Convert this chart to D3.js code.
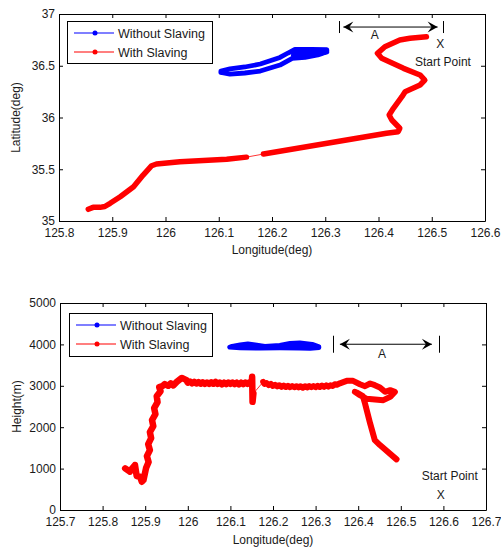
<!DOCTYPE html>
<meta charset="utf-8">
<script src="https://cdn.jsdelivr.net/npm/d3@7"></script>
<style>
  body { margin: 0; background: #fff; }
  text { font-family: Arial, "Liberation Sans", sans-serif; fill: #1a1a1a; }
</style>
<div id="chart"></div>
<script>

// legend / ticks
const seriesNames = ["Without Slaving", "With Slaving"];
const lonTicksTop = [125.8, 125.9, 126, 126.1, 126.2, 126.3, 126.4, 126.5, 126.6];
const latTicks = [35, 35.5, 36, 36.5, 37];
const lonTicksBottom = [125.7, 125.8, 125.9, 126, 126.1, 126.2, 126.3, 126.4, 126.5, 126.6, 126.7];
const heightTicks = [0, 1000, 2000, 3000, 4000, 5000];

// ---- top plot: latitude vs longitude ----
// without slaving (a narrow loop with a dense blob at its east end)
const blueLon = [126.104, 126.121, 126.149, 126.178, 126.215, 126.238, 126.262, 126.286, 126.303,
                 126.300, 126.270, 126.240, 126.245, 126.275, 126.303,
                 126.303, 126.275, 126.243, 126.230, 126.215, 126.178, 126.149, 126.121, 126.104, 126.104];
const blueLat = [36.435, 36.420, 36.430, 36.449, 36.507, 36.572, 36.580, 36.604, 36.633,
                 36.628, 36.612, 36.600, 36.632, 36.640, 36.645,
                 36.655, 36.658, 36.657, 36.623, 36.580, 36.517, 36.488, 36.469, 36.449, 36.435];

// with slaving, from the start point until the sparse gap
const redEastLon = [126.490, 126.459, 126.440, 126.412, 126.398, 126.406, 126.447, 126.478, 126.487, 126.478,
                    126.450, 126.444, 126.428, 126.420, 126.425, 126.440, 126.437, 126.415, 126.184];
const redEastLat = [36.781, 36.765, 36.749, 36.684, 36.620, 36.572, 36.475, 36.411, 36.362, 36.314,
                    36.249, 36.201, 36.089, 36.024, 35.976, 35.896, 35.863, 35.847, 35.647];
// with slaving, after the gap
const redWestLon = [126.152, 126.115, 126.027, 125.983, 125.974, 125.958, 125.940, 125.915, 125.896,
                    125.886, 125.877, 125.864, 125.855];
const redWestLat = [35.617, 35.596, 35.573, 35.551, 35.534, 35.444, 35.331, 35.235, 35.171,
                    35.140, 35.132, 35.132, 35.113];

// ---- bottom plot: height vs longitude ----
const blueHLon = [126.098, 126.123, 126.170, 126.216, 126.263, 126.287, 126.308,
                  126.308, 126.292, 126.263, 126.240, 126.216, 126.181, 126.158, 126.141, 126.123, 126.104, 126.098];
const blueH = [3932, 3912, 3908, 3912, 3908, 3901, 3920,
               3944, 4004, 4040, 4028, 3980, 3956, 3992, 4016, 3992, 3956, 3932];

const redEastHLon = [126.490, 126.451, 126.439, 126.428, 126.416, 126.411, 126.396, 126.392, 126.404, 126.420,
                     126.459, 126.475, 126.486, 126.475, 126.463, 126.451, 126.439, 126.428, 126.416, 126.404,
                     126.388, 126.373, 126.357, 126.350, 126.345, 126.340, 126.335, 126.330, 126.325, 126.320,
                     126.315, 126.310, 126.305, 126.300, 126.295, 126.290, 126.285, 126.280, 126.275, 126.270,
                     126.265, 126.260, 126.255, 126.250, 126.245, 126.240, 126.235, 126.230, 126.225, 126.220,
                     126.215, 126.210, 126.205, 126.200, 126.195, 126.190, 126.185, 126.180, 126.177];
const redEastH = [1223, 1568, 1688, 2091, 2573, 2750, 2839, 2854, 2774, 2685,
                  2653, 2733, 2854, 2894, 2854, 2960, 3015, 3056, 2991, 3039,
                  3119, 3119, 3060, 3025, 3040, 2995, 3015, 2980, 3010, 2975,
                  3005, 2970, 3000, 2965, 2995, 2965, 2995, 2960, 2990, 2955,
                  2990, 2960, 2990, 2965, 2995, 2965, 3000, 2970, 3005, 2975,
                  3015, 2985, 3025, 2995, 3045, 3015, 3065, 3045, 3095];

const redWestHLon = [126.154, 126.152, 126.151, 126.150, 126.145, 126.140, 126.135, 126.130, 126.125, 126.120,
                     126.115, 126.110, 126.105, 126.100, 126.095, 126.090, 126.085, 126.080, 126.075, 126.070,
                     126.065, 126.060, 126.055, 126.050, 126.045, 126.040, 126.035, 126.030, 126.025, 126.020,
                     126.015, 126.010, 126.005, 126.000, 125.997, 125.986, 125.974, 125.966, 125.960, 125.954,
                     125.946, 125.940, 125.933, 125.936, 125.927, 125.929, 125.921, 125.924, 125.916, 125.919,
                     125.911, 125.914, 125.907, 125.911, 125.904, 125.908, 125.902, 125.896, 125.892, 125.888,
                     125.880, 125.876, 125.868, 125.864, 125.853];
const redWestH = [2815, 2613, 3216, 3050, 3085, 3045, 3080, 3040, 3075, 3035,
                  3075, 3040, 3080, 3045, 3080, 3040, 3075, 3035, 3080, 3045,
                  3095, 3050, 3085, 3045, 3080, 3045, 3085, 3050, 3090, 3055,
                  3095, 3060, 3105, 3075, 3136, 3190, 3095, 3010, 3060, 3000,
                  3040, 2990, 2967, 2870, 2750, 2605, 2460, 2316, 2171, 2026,
                  1881, 1737, 1592, 1447, 1302, 1158, 1013, 724, 683, 803,
                  820, 1085, 990, 925, 1006];

const colors = ["#0000ff", "#ff0000"];

const svg = d3.select("#chart").append("svg")
  .attr("width", 501).attr("height", 549);

const fmt = d => String(+d.toFixed(1));

function axes(x, y, xTicks, yTicks, xLabel, yLabel, xLabelY, yLabelX) {
  const [xa, xb] = x.range(), [yb, ya] = y.range();
  const g = svg.append("g");
  const style = s => s.attr("font-size", 12).attr("font-family", "Arial, 'Liberation Sans', sans-serif")
    .attr("color", "#000");
  g.append("g").attr("transform", `translate(0,${yb})`)
    .call(d3.axisBottom(x).tickValues(xTicks).tickFormat(fmt).tickSizeInner(-4).tickSizeOuter(0).tickPadding(7.5))
    .call(style);
  g.append("g").attr("transform", `translate(0,${ya})`)
    .call(d3.axisTop(x).tickValues(xTicks).tickFormat("").tickSizeInner(-4).tickSizeOuter(0));
  g.append("g").attr("transform", `translate(${xa},0)`)
    .call(d3.axisLeft(y).tickValues(yTicks).tickFormat(fmt).tickSizeInner(-4).tickSizeOuter(0).tickPadding(4))
    .call(style);
  g.append("g").attr("transform", `translate(${xb},0)`)
    .call(d3.axisRight(y).tickValues(yTicks).tickFormat("").tickSizeInner(-4).tickSizeOuter(0));
  g.selectAll(".tick text").attr("fill", "#1a1a1a");
  g.append("text").attr("x", (xa + xb) / 2).attr("y", xLabelY)
    .attr("text-anchor", "middle").attr("font-size", 12).text(xLabel);
  g.append("text").attr("transform", `translate(${yLabelX},${(ya + yb) / 2}) rotate(-90)`)
    .attr("text-anchor", "middle").attr("font-size", 12).text(yLabel);
}

function trace(x, y, lon, val, color, w, fill) {
  svg.append("path")
    .datum(d3.zip(lon, val))
    .attr("d", d3.line().x(d => x(d[0])).y(d => y(d[1])))
    .attr("fill", fill ? color : "none").attr("stroke", color).attr("stroke-width", w)
    .attr("stroke-linejoin", "round").attr("stroke-linecap", "round");
}

function legend(x0, y0, w, h) {
  svg.append("rect").attr("x", x0 + 0.5).attr("y", y0 + 0.5).attr("width", w).attr("height", h)
    .attr("fill", "#fff").attr("stroke", "#000");
  seriesNames.forEach((name, i) => {
    const yy = y0 + 12 + i * 19;
    svg.append("line").attr("x1", x0 + 7).attr("x2", x0 + 47).attr("y1", yy).attr("y2", yy)
      .attr("stroke", colors[i]).attr("stroke-width", 1.2);
    svg.append("circle").attr("cx", x0 + 28).attr("cy", yy).attr("r", 2.5).attr("fill", colors[i]);
    svg.append("text").attr("x", x0 + 51).attr("y", yy + 4.5).attr("font-size", 12.5).text(name);
  });
}

function arrowHead(tx, ty, dir) {
  const L = 10, W = 11;
  svg.append("path")
    .attr("d", `M${tx},${ty} L${tx + dir * L},${ty - W / 2} L${tx + dir * L * 0.6},${ty} L${tx + dir * L},${ty + W / 2} Z`)
    .attr("fill", "#000");
}

function annotation(x, y, bar1, bar2, a1, a2, ay, barH, aLabel, xMark, startLabel) {
  [bar1, bar2].forEach(b => {
    const px = Math.round(x(b)) + 0.5;
    svg.append("line").attr("x1", px).attr("x2", px).attr("y1", y(ay) - barH / 2).attr("y2", y(ay) + barH / 2)
      .attr("stroke", "#000").attr("stroke-width", 1);
  });
  svg.append("line").attr("x1", x(a1)).attr("x2", x(a2)).attr("y1", y(ay)).attr("y2", y(ay))
    .attr("stroke", "#000").attr("stroke-width", 1);
  arrowHead(x(a1), y(ay), 1);
  arrowHead(x(a2), y(ay), -1);
  svg.append("text").attr("x", x(aLabel[0])).attr("y", y(aLabel[1])).attr("text-anchor", "middle")
    .attr("font-size", 12).text("A");
  svg.append("text").attr("x", x(xMark[0])).attr("y", y(xMark[1])).attr("text-anchor", "middle")
    .attr("font-size", 12).text("X");
  svg.append("text").attr("x", x(startLabel[0])).attr("y", y(startLabel[1])).attr("text-anchor", "middle")
    .attr("font-size", 12).text("Start Point");
}

// ---------- top ----------
const x1 = d3.scaleLinear().domain([125.8, 126.6]).range([59, 485]);
const y1 = d3.scaleLinear().domain([35, 37]).range([221, 14]);
axes(x1, y1, lonTicksTop, latTicks, "Longitude(deg)", "Latitude(deg)", 254, 20);
trace(x1, y1, blueLon, blueLat, colors[0], 4.8);
trace(x1, y1, redEastLon, redEastLat, colors[1], 5.5);
trace(x1, y1, [redEastLon[redEastLon.length - 1], redWestLon[0]], [redEastLat[redEastLat.length - 1], redWestLat[0]], colors[1], 0.8);
trace(x1, y1, redWestLon, redWestLat, colors[1], 5.5);
legend(67, 21, 145, 42);
annotation(x1, y1, 126.326, 126.521, 126.334, 126.511, 36.874, 12,
  [126.393, 36.758], [126.516, 36.671], [126.521, 36.498]);

// ---------- bottom ----------
const x2 = d3.scaleLinear().domain([125.7, 126.7]).range([60, 486]);
const y2 = d3.scaleLinear().domain([0, 5000]).range([510, 303]);
axes(x2, y2, lonTicksBottom, heightTicks, "Longitude(deg)", "Height(m)", 544, 21);
trace(x2, y2, blueHLon, blueH, colors[0], 4.5, true);
trace(x2, y2, redEastHLon, redEastH, colors[1], 6);
trace(x2, y2, [redEastHLon[redEastHLon.length - 1], redWestHLon[0]], [redEastH[redEastH.length - 1], redWestH[0]], colors[1], 0.8);
trace(x2, y2, redWestHLon, redWestH, colors[1], 6.5);
legend(69, 313, 143, 43);
annotation(x2, y2, 126.341, 126.590, 126.357, 126.573, 4004, 17,
  [126.456, 3666], [126.594, 265], [126.615, 724]);

</script>
